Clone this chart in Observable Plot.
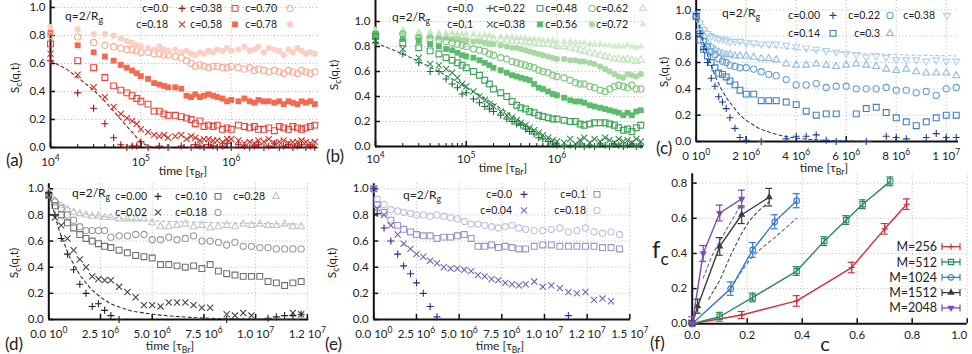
<!DOCTYPE html>
<html><head><meta charset="utf-8">
<script src="https://cdn.jsdelivr.net/npm/d3@7"></script>
<script src="https://cdn.jsdelivr.net/npm/@observablehq/plot@0.6"></script>
<style>
html,body{margin:0;padding:0;background:#fff;}
#root{position:relative;width:972px;height:354px;overflow:hidden;background:#fff;}
#root svg{position:absolute;}
</style></head><body><div id="root"></div>
<script>
const FONT = "Lato, 'Open Sans', 'DejaVu Sans', sans-serif";

// ---------------- Panel (a) data: time in tau_Br (log axis) ----------------
const tA = [1e4,2e4,3e4,4e4,5e4,6e4,7e4,8e4,9e4,1e5, 1.2e5,1.4e5,1.6e5,1.8e5,2e5, 2.4e5,2.8e5,3.2e5,3.6e5,4e5, 4.5e5,5e5,5.6e5,6.3e5,7e5, 8e5,9e5,1e6,1.2e6,1.4e6, 1.6e6,1.8e6,2e6,2.3e6,2.6e6, 3e6,3.4e6,3.8e6,4.3e6,4.8e6, 5.4e6,6e6,6.7e6,7.5e6,8.4e6];
const labelsA = ["c=0.0","c=0.18","c=0.38","c=0.58","c=0.70","c=0.78"];
const a00 = [0.62,0.39,0.28,0.17,0.07,0.02,0.0,0.01,0.01,0.04, 0.0,null,0.01,null,0.0, null,0.01,null,0.0,0.02, 0.01,0.0,0.02,0.01,0.0, 0.01,0.03,0.0,0.02,0.01, 0.0,0.01,0.02,0.0,0.01, 0.03,0.0,0.01,0.02,0.0, 0.01,0.02,0.0,0.01,0.0];
const a18 = [0.67,0.52,0.43,0.36,0.29,0.24,0.21,0.19,0.17,0.13, 0.11,0.09,0.08,0.09,0.07, 0.08,0.09,0.06,0.08,0.07, 0.05,0.06,0.06,0.05,0.05, 0.04,0.06,0.06,0.05,0.03, 0.04,0.03,0.05,0.04,0.06, 0.03,0.04,0.05,0.03,0.04, 0.04,0.05,0.04,0.03,0.04];
const a38 = [0.74,0.62,0.57,0.50,0.44,0.41,0.39,0.37,0.35,0.33, 0.31,0.26,0.26,0.24,0.23, 0.23,0.22,0.21,0.2,0.17, 0.19,0.15,0.16,0.15,0.16, 0.13,0.14,0.13,0.16,0.15, 0.14,0.15,0.13,0.13,0.14, 0.12,0.15,0.14,0.13,0.15, 0.14,0.13,0.14,0.15,0.16];
const a58 = [0.82,0.73,0.68,0.65,0.62,0.59,0.57,0.55,0.53,0.51, 0.49,0.46,0.45,0.44,0.43, 0.43,0.42,0.37,0.36,0.38, 0.36,0.37,0.38,0.37,0.36, 0.35,0.33,0.34,0.33,0.35, 0.33,0.32,0.34,0.33,0.33, 0.32,0.33,0.31,0.33,0.32, 0.31,0.33,0.32,0.33,0.31];
const a70 = [0.80,0.79,0.75,0.73,0.72,0.71,0.70,0.70,0.69,0.68, 0.68,0.67,0.67,0.66,0.66, 0.65,0.64,0.62,0.60,0.58, 0.59,0.58,0.57,0.58,0.58, 0.57,0.57,0.58,0.57,0.56, 0.57,0.55,0.56,0.55,0.54, 0.55,0.54,0.53,0.55,0.54, 0.53,0.55,0.54,0.53,0.54];
const a78 = [0.86,0.845,0.81,0.81,0.80,0.78,0.76,0.75,0.73,0.72, 0.71,0.70,0.72,0.70,0.69, 0.70,0.68,0.69,0.67,0.66, 0.68,0.67,0.69,0.68,0.70, 0.69,0.71,0.69,0.70,0.72, 0.69,0.70,0.72,0.68,0.71, 0.70,0.69,0.66,0.70,0.68, 0.71,0.69,0.67,0.68,0.67];
const fitA_t = [1e4,1.5e4,2e4,3e4,4e4,5e4,6e4,7e4,8e4,9e4,1e5,1.2e5,1.4e5];
const fitA_y = [0.62,0.56,0.50,0.41,0.33,0.26,0.20,0.15,0.11,0.07,0.04,0.01,0.0];

// ---------------- Panel (b) data ----------------
const labelsB = ["c=0.0","c=0.1","c=0.22","c=0.38","c=0.48","c=0.56","c=0.62","c=0.72"];
const b00 = [0.83,0.74,0.67,0.60,0.60,0.54,0.50,0.47,0.42,0.43, 0.38,0.35,0.32,0.30,0.28, 0.25,0.22,0.20,0.18,0.17, 0.14,0.12,0.10,0.07,0.06, 0.04,0.02,0.01,0.0,0.01, 0.0,0.02,0.0,0.01,0.0, 0.02,0.01,0.0,0.02,0.01, 0.0,0.01,0.02,0.0,0.01];
const b10 = [0.85,0.78,0.71,0.66,0.65,0.62,0.59,0.55,0.50,0.48, 0.44,0.40,0.37,0.34,0.32, 0.28,0.25,0.23,0.21,0.19, 0.17,0.15,0.13,0.11,0.09, 0.07,0.05,0.04,0.03,0.06, 0.02,0.05,0.07,0.03,0.06, 0.04,0.07,0.05,0.03,0.06, 0.04,0.05,0.03,0.06,0.04];
const b22 = [0.88,0.83,0.79,0.765,0.74,0.71,0.69,0.67,0.65,0.63, 0.60,0.57,0.53,0.50,0.46, 0.43,0.40,0.36,0.33,0.31, 0.30,0.28,0.27,0.25,0.24, 0.23,0.22,0.22,0.21,0.20, 0.20,0.18,0.17,0.18,0.19, 0.19,0.19,0.18,0.17,0.15, 0.13,0.14,0.12,0.15,0.17];
const b38 = [0.90,0.86,0.845,0.82,0.80,0.78,0.77,0.75,0.73,0.72, 0.71,0.69,0.67,0.65,0.63, 0.61,0.59,0.57,0.56,0.55, 0.54,0.53,0.50,0.47,0.46, 0.44,0.42,0.41,0.39,0.37, 0.36,0.36,0.35,0.33,0.32, 0.31,0.30,0.29,0.28,0.27, 0.25,0.27,0.25,0.28,0.29];
const b48 = [0.90,0.90,0.87,0.86,0.85,0.84,0.83,0.82,0.81,0.80, 0.78,0.77,0.76,0.74,0.73, 0.71,0.70,0.68,0.67,0.66, 0.65,0.64,0.63,0.61,0.60, 0.59,0.57,0.56,0.55,0.53, 0.51,0.50,0.50,0.48,0.47, 0.45,0.44,0.46,0.48,0.49, 0.48,0.47,0.49,0.46,0.46];
const b56 = [0.91,0.90,0.88,0.88,0.87,0.87,0.86,0.86,0.85,0.85, 0.84,0.84,0.83,0.82,0.82, 0.81,0.80,0.79,0.79,0.78, 0.77,0.76,0.75,0.74,0.73, 0.72,0.71,0.70,0.70,0.69, 0.69,0.68,0.68,0.67,0.66, 0.64,0.62,0.60,0.58,0.56, 0.55,0.58,0.57,0.56,0.58];
const b62 = [0.92,0.92,0.90,0.89,0.89,0.88,0.88,0.88,0.87,0.87, 0.87,0.86,0.86,0.86,0.85, 0.85,0.85,0.84,0.84,0.84, 0.83,0.83,0.83,0.82,0.82, 0.82,0.81,0.80,0.80,0.79, 0.78,0.77,0.76,0.75,0.74, 0.73,0.72,0.71,0.70,0.70, 0.69,0.70,0.69,0.68,0.69];
const b72 = [0.93,0.93,0.92,0.92,0.91,0.91,0.91,0.90,0.90,0.90, 0.90,0.89,0.89,0.89,0.88, 0.88,0.88,0.88,0.87,0.87, 0.87,0.86,0.86,0.86,0.85, 0.85,0.85,0.84,0.84,0.84, 0.83,0.83,0.83,0.82,0.82, 0.82,0.81,0.81,0.80,0.80, 0.80,0.81,0.80,0.79,0.80];
const fitB_t = [1e4,2e4,3e4,5e4,7e4,1e5,1.5e5,2e5,3e5,4e5,5e5,6e5];
const fitB_y = [0.83,0.74,0.68,0.60,0.54,0.47,0.40,0.34,0.26,0.20,0.15,0.11];

// ---------------- Panel (c) data: time in units of 1e6 tau_Br ----------------
const tC = [0,0.15,0.3,0.45,0.6,0.75,0.9,1.05,1.2,1.35, 1.55,1.75,2.0,2.3,2.6, 2.9,3.2,3.6,4.0,4.4, 4.8,5.2,5.6,6.0,6.4, 6.8,7.2,7.6,8.0,8.4, 8.8,9.2,9.6,10.0,10.4];
const labelsC = ["c=0.00","c=0.14","c=0.22","c=0.3","c=0.38"];
const c00 = [0.97,0.82,0.70,0.60,0.48,0.42,0.34,0.30,0.25,0.18, 0.10,0.03,0.01,null,0.0, null,null,0.02,0.04,0.04, 0.05,0.01,0.0,null,null, 0.0,null,0.04,0.03,0.02, null,0.03,0.06,0.03,0.03];
const c14 = [0.95,0.77,0.70,0.65,0.60,0.56,0.52,0.51,0.49,0.46, 0.43,0.39,0.36,0.36,0.31, 0.31,0.31,0.30,0.28,0.23, 0.20,0.21,0.21,null,0.21, 0.25,0.26,0.22,0.18,0.15, 0.12,0.15,0.18,0.20,0.20];
const c22 = [0.95,0.82,0.76,0.72,0.68,0.66,0.63,0.61,0.60,0.58, 0.57,0.56,0.56,0.55,0.53, 0.51,0.50,0.47,0.43,0.43, 0.44,0.41,0.42,0.42,0.40, 0.40,0.40,0.41,0.39,0.39, 0.37,0.38,0.35,0.40,0.41];
const c30 = [0.96,0.86,0.80,0.75,0.72,0.70,0.68,0.67,0.66,0.66, 0.65,0.65,0.65,0.64,0.63, 0.63,0.62,0.59,0.58,0.58, 0.59,0.58,0.57,0.58,0.59, 0.58,0.57,0.55,0.54,0.55, 0.53,0.52,0.52,0.52,0.50];
const c38 = [0.97,0.90,0.85,0.82,0.80,0.79,0.78,0.78,0.77,0.76, 0.76,0.76,0.75,0.75,0.74, 0.74,0.74,0.73,0.72,0.71, 0.70,0.69,0.68,0.67,0.66, 0.64,0.65,0.64,0.62,0.62, 0.62,0.61,0.62,0.61,0.61];
const fitC0_t = [0,0.25,0.5,0.75,1,1.25,1.5,1.75,2,2.5,3,3.5,4,5,6,7];
const fitC0_y = [0.97,0.78,0.63,0.50,0.40,0.32,0.26,0.20,0.16,0.10,0.065,0.04,0.025,0.01,0.004,0.0];
const fitC38_t = [0,0.5,1,1.5,2,3,4,5,6,7,8,9,10.4];
const fitC38_y = [0.97,0.83,0.78,0.76,0.74,0.72,0.70,0.69,0.675,0.665,0.66,0.655,0.65];

// ---------------- Panel (d) data: time in units of 1e6 tau_Br ----------------
const tD = [0,0.3,0.6,0.9,1.2,1.5,1.8,2.1,2.4,2.7, 3.0,3.4,3.8,4.2,4.6, 5.0,5.4,5.8,6.2,6.6, 7.0,7.4,7.8,8.2,8.6, 9.0,9.4,9.8,10.2,10.6, 11.0,11.4,11.8,12.2];
const labelsD = ["c=0.00","c=0.02","c=0.10","c=0.18","c=0.28"];
const d00 = [0.97,0.80,0.62,0.50,0.38,0.27,0.20,0.10,0.12,0.07, 0.03,0.0,null,null,null, null,null,null,null,null, null,null,null,null,0.0, null,null,null,null,0.01, 0.02,0.03,0.03,0.04];
const d02 = [0.95,0.78,0.72,0.62,0.53,0.46,0.40,0.33,0.31,0.30, 0.30,0.25,0.21,0.17,0.11, 0.11,0.10,0.13,0.13,0.13, 0.11,0.09,0.09,null,0.04, 0.03,0.05,0.03,null,null, null,null,0.05,0.04];
const d10 = [0.95,0.87,0.80,0.74,0.70,0.65,0.62,0.60,0.58,0.56, 0.55,0.53,0.51,0.49,0.48, 0.47,0.42,0.42,0.41,0.40, 0.41,0.39,0.42,0.37,0.35, 0.34,0.33,0.33,0.33,0.29, 0.28,0.26,0.28,0.29];
const d18 = [0.96,0.90,0.85,0.80,0.76,0.71,0.68,0.68,0.68,0.68, 0.63,0.64,0.64,0.65,0.65, 0.61,0.61,0.63,0.61,0.62, 0.64,0.60,0.60,0.59,0.57, 0.59,0.56,0.56,0.55,0.55, 0.54,0.54,0.54,0.54];
const d28 = [0.97,0.91,0.87,0.84,0.82,0.81,0.80,0.79,0.79,0.78, 0.78,0.77,0.77,0.77,0.77, 0.74,0.71,0.71,0.72,0.73, 0.71,0.72,0.70,0.71,0.72, 0.71,0.73,0.72,0.73,0.72, 0.72,0.73,0.71,0.71];
const fitD0_t = [0,0.5,1,1.5,2,2.5,3,3.5,4,5,6,7,8,10,12.2];
const fitD0_y = [0.97,0.68,0.48,0.34,0.24,0.17,0.12,0.09,0.065,0.04,0.025,0.015,0.008,0.003,0.0];
const fitD28_t = [0,0.5,1,1.5,2,3,4,5,6,8,10,12.2];
const fitD28_y = [0.97,0.90,0.85,0.82,0.80,0.78,0.765,0.755,0.75,0.74,0.735,0.73];

// ---------------- Panel (e) data: time in units of 1e6 tau_Br ----------------
const tE = [0,0.2,0.6,1.0,1.4,1.75,2.15,2.5,2.9,3.3, 3.7,4.1,4.5,4.9,5.3, 5.7,6.1,6.5,6.9,7.3, 7.7,8.1,8.5,8.9,9.4, 9.9,10.4,10.9,11.4,11.9, 12.4,12.9,13.4,13.9,14.4];
const labelsE = ["c=0.0","c=0.04","c=0.1","c=0.18"];
const e00 = [1.0,0.81,0.70,0.60,0.50,0.41,0.35,0.28,0.20,0.10, 0.02,null,null,null,null, null,null,null,null,null, null,null,null,null,null, null,null,null,0.03,null, null,null,null,null,null];
const e04 = [1.0,0.85,0.80,0.72,0.65,0.58,0.54,0.50,0.48,0.45, 0.43,0.40,0.39,0.39,0.38, 0.37,0.34,0.33,0.31,0.30, 0.28,0.27,0.26,0.27,0.29, 0.25,0.26,0.24,0.21,0.20, 0.21,0.15,0.16,0.14,null];
const e10 = [1.0,0.88,0.82,0.76,0.72,0.69,0.67,0.65,0.64,0.64, 0.62,0.63,0.63,0.64,0.65, 0.62,0.56,0.56,0.57,0.55, 0.56,0.55,0.54,0.54,0.56, 0.57,0.57,0.56,0.56,0.56, 0.56,0.56,0.55,0.55,0.54];
const e18 = [1.0,0.92,0.88,0.84,0.83,0.82,0.81,0.80,0.80,0.79, 0.80,0.79,0.78,0.77,0.75, 0.73,0.73,0.72,0.71,0.70, 0.71,0.72,0.70,0.69,0.68, 0.68,0.69,0.70,0.67,0.68, 0.70,0.67,0.66,0.67,0.65];

// ---------------- Panel (f) data: f_c versus c ----------------
const labelsF = ["M=256","M=512","M=1024","M=1512","M=2048"];
const fc256 = [0,0.18,0.38,0.58,0.70,0.78], ff256 = [0,0.05,0.13,0.32,0.54,0.68], fe256 = [0.01,0.02,0.03,0.03,0.03,0.03];
const fc512 = [0,0.1,0.22,0.38,0.48,0.56,0.62,0.72], ff512 = [0,0.04,0.15,0.30,0.47,0.59,0.68,0.81], fe512 = [0.01,0.025,0.025,0.025,0.025,0.025,0.025,0.025];
const fc1024 = [0,0.14,0.22,0.30,0.38], ff1024 = [0,0.20,0.42,0.58,0.70], fe1024 = [0.01,0.038,0.042,0.04,0.04];
const fc1512 = [0,0.02,0.10,0.18,0.28], ff1512 = [0,0.10,0.44,0.62,0.72], fe1512 = [0.02,0.04,0.05,0.05,0.05];
const fc2048 = [0,0.04,0.10,0.18], ff2048 = [0,0.40,0.63,0.71], fe2048 = [0.04,0.045,0.045,0.05];
const fitF2048_c = [0.04,0.07,0.10,0.13,0.16,0.18], fitF2048_f = [0.26,0.38,0.47,0.55,0.63,0.68];
const fitF1512_c = [0.06,0.10,0.14,0.18,0.21,0.24,0.28], fitF1512_f = [0.14,0.246,0.39,0.515,0.59,0.64,0.694];
const fitF1024_c = [0.14,0.18,0.22,0.26,0.30,0.34,0.38], fitF1024_f = [0.20,0.30,0.385,0.44,0.49,0.545,0.60];

// ---------------- tick values and labels ("^" marks a superscript) ----------------
const logTicks = [1e4,1e5,1e6], logTickLabels = ["10^4","10^5","10^6"];
const logMinor = [2e4,3e4,4e4,5e4,6e4,7e4,8e4,9e4,2e5,3e5,4e5,5e5,6e5,7e5,8e5,9e5,2e6,3e6,4e6,5e6,6e6,7e6,8e6];
const yTicks = [0,0.2,0.4,0.6,0.8,1.0], yTickLabels = ["0.0","0.2","0.4","0.6","0.8","1.0"];
const cTicks = [0,2e6,4e6,6e6,8e6,1e7], cTickLabels = ["0 10^0","2 10^6","4 10^6","6 10^6","8 10^6","1 10^7"];
const dTicks = [0,2.5e6,5e6,7.5e6,1e7,1.25e7], dTickLabels = ["0.0 10^0","2.5 10^6","5.0 10^6","7.5 10^6","1.0 10^7","1.2 10^7"];
const eTicks = [0,2.5e6,5e6,7.5e6,1e7,1.25e7,1.5e7], eTickLabels = ["0.0 10^0","2.5 10^6","5.0 10^6","7.5 10^6","1.0 10^7","1.2 10^7","1.5 10^7"];
const fxTicks = [0,0.2,0.4,0.6,0.8,1.0], fxTickLabels = ["0.0","0.2","0.4","0.6","0.8","1.0"];
const fyTicks = [0,0.2,0.4,0.6,0.8], fyTickLabels = ["0.0","0.2","0.4","0.6","0.8"];

// ---------------- styles ----------------
const stA = [
  {symbol:"plus", r:2.4, color:"#a3101a"},
  {symbol:"times", r:2.9, color:"#cf2e24"},
  {symbol:"square", r:3.3, color:"#e6463a"},
  {symbol:"square", r:3.3, color:"#f36a50", filled:true},
  {symbol:"circle", r:3.1, color:"#f9ab93"},
  {symbol:"circle", r:3.1, color:"#fbd0c2", filled:true}];
const stB = [
  {symbol:"plus", r:2.4, color:"#1d6b35"},
  {symbol:"times", r:2.9, color:"#2e8b48"},
  {symbol:"square", r:3.3, color:"#3fa55a"},
  {symbol:"square", r:3.3, color:"#5cbb6c", filled:true},
  {symbol:"circle", r:3.1, color:"#7cc77d"},
  {symbol:"circle", r:3.1, color:"#a8d9a2", filled:true},
  {symbol:"triangle", r:2.6, color:"#c2e4bc"},
  {symbol:"triangle", r:2.6, color:"#d3ecce", filled:true}];
const stC = [
  {symbol:"plus", r:2.4, color:"#1f3f8f"},
  {symbol:"square", r:3.3, color:"#3f7fc0"},
  {symbol:"circle", r:3.1, color:"#5f9fd3"},
  {symbol:"triangle", r:2.6, color:"#8fbde0"},
  {symbol:"triangle", r:2.6, color:"#b0cfea", rotate:180}];
const stD = [
  {symbol:"plus", r:2.4, color:"#222222"},
  {symbol:"times", r:2.9, color:"#444444"},
  {symbol:"square", r:3.3, color:"#707070"},
  {symbol:"circle", r:3.1, color:"#999999"},
  {symbol:"triangle", r:2.6, color:"#c4c4c4"}];
const stE = [
  {symbol:"plus", r:2.4, color:"#4b1e86"},
  {symbol:"times", r:2.9, color:"#7a62b5"},
  {symbol:"square", r:3.3, color:"#9b93c8"},
  {symbol:"circle", r:3.1, color:"#c3bedf"}];
const stF = [
  {symbol:"plus", r:2.2, color:"#c8303c"},
  {symbol:"square", r:3.0, color:"#2a8a57"},
  {symbol:"circle", r:2.8, color:"#3a7bc8"},
  {symbol:"triangle", r:2.7, color:"#3a3a3a", filled:true},
  {symbol:"triangle", r:2.7, color:"#7d4bb8", filled:true, rotate:180}];

const root = document.getElementById("root");

function rowsOf(t, ys, scale) {
  return t.map((v, i) => ({t: v * scale, y: ys[i]})).filter(d => d.y != null);
}
function dots(data, st, xk = "t", yk = "y") {
  return Plot.dot(data, {x: xk, y: yk, symbol: st.symbol, r: st.r, rotate: st.rotate || 0,
    fill: st.filled ? st.color : "none", stroke: st.filled ? "none" : st.color, strokeWidth: 1.1});
}
function fitLine(t, y, scale, color, dash = "3,3") {
  return Plot.line(t.map((v, i) => ({t: v * scale, y: y[i]})), {x: "t", y: "y", stroke: color, strokeWidth: 1.1, strokeDasharray: dash});
}
function axes({xTicks, xLabels, yT, yLabels, x0, y0, minor = [], xPad = 9}) {
  const xl = new Map(xTicks.map((d, i) => [d, xLabels[i]]));
  const yl = new Map(yT.map((d, i) => [d, yLabels[i]]));
  const grid = {stroke: "#9a9a9a", strokeOpacity: 0.9, strokeDasharray: "1,2.5", strokeWidth: 0.8};
  return [
    Plot.gridX({ticks: xTicks, ...grid}),
    Plot.gridY({ticks: yT, ...grid}),
    Plot.ruleX(xTicks, {x: d => d, y1: y0, y2: y0, insetTop: -5, stroke: "#111", strokeWidth: 1.5}),
    Plot.ruleX(minor, {x: d => d, y1: y0, y2: y0, insetTop: -3, stroke: "#111", strokeWidth: 1}),
    Plot.ruleY(yT, {y: d => d, x1: x0, x2: x0, insetRight: -5, stroke: "#111", strokeWidth: 1.5}),
    Plot.ruleY([y0], {stroke: "#111", strokeWidth: 2}),
    Plot.ruleX([x0], {stroke: "#111", strokeWidth: 2}),
    Plot.axisX({ticks: xTicks, tickFormat: d => xl.get(d), tickSize: 0, tickPadding: xPad, label: null, fill: "#222"}),
    Plot.axisY({ticks: yT, tickFormat: d => yl.get(d), tickSize: 0, tickPadding: 5, label: null, fill: "#222"})
  ];
}
// turn "a 10^b" tick labels into text with a real superscript tspan
function supify(svg) {
  d3.select(svg).selectAll("text").each(function () {
    if (this.querySelector("tspan")) return;
    const s = this.textContent, k = s.indexOf("^");
    if (k < 0) return;
    const el = d3.select(this);
    el.text(null);
    el.append("tspan").text(s.slice(0, k));
    el.append("tspan").attr("font-size", "8.5px").attr("dy", "-4.5").text(s.slice(k + 1));
  });
}
function panel(cfg, marks) {
  const p = Plot.plot({
    width: cfg.width, height: cfg.height,
    marginLeft: cfg.ml, marginRight: cfg.mr, marginTop: cfg.mt, marginBottom: cfg.mb,
    x: cfg.x, y: cfg.y,
    style: {fontFamily: FONT, fontSize: "11.5px", color: "#222", background: "transparent", overflow: "visible"},
    marks
  });
  p.style.left = cfg.left + "px";
  p.style.top = cfg.top + "px";
  supify(p);
  root.appendChild(p);
  return p;
}

// ---- (a) ----
{
  const series = [a00, a18, a38, a58, a70, a78];
  panel({left: 0, top: 0, width: 322, height: 180, ml: 50, mr: 5, mt: 0, mb: 33,
    x: {type: "log", domain: [1e4, 9e6]}, y: {domain: [0, 1.05]}}, [
    ...axes({xTicks: logTicks, xLabels: logTickLabels, yT: yTicks, yLabels: yTickLabels, x0: 1e4, y0: 0, minor: logMinor, xPad: 10}),
    fitLine(fitA_t, fitA_y, 1, "#a3101a"),
    ...series.map((s, i) => dots(rowsOf(tA, s, 1), stA[i]))
  ]);
}
// ---- (b) ----
{
  const series = [b00, b10, b22, b38, b48, b56, b62, b72];
  panel({left: 322, top: 0, width: 322, height: 180, ml: 53, mr: 1, mt: 0, mb: 34,
    x: {type: "log", domain: [1e4, 9e6]}, y: {domain: [0, 1.168]}}, [
    ...axes({xTicks: logTicks, xLabels: logTickLabels, yT: yTicks, yLabels: yTickLabels, x0: 1e4, y0: 0, minor: logMinor, xPad: 8}),
    fitLine(fitB_t, fitB_y, 1, "#1d6b35"),
    ...series.map((s, i) => dots(rowsOf(tA, s, 1), stB[i])).reverse()
  ]);
}
// ---- (c) ----
{
  const series = [c00, c14, c22, c30, c38];
  panel({left: 644, top: 0, width: 328, height: 180, ml: 51.7, mr: 14, mt: 0, mb: 39,
    x: {domain: [0, 1.049e7]}, y: {domain: [0, 1.071]}}, [
    ...axes({xTicks: cTicks, xLabels: cTickLabels, yT: yTicks, yLabels: yTickLabels, x0: 0, y0: 0, xPad: 10}),
    fitLine(fitC38_t, fitC38_y, 1e6, "#a9c7e6"),
    ...series.map((s, i) => dots(rowsOf(tC, s, 1e6), stC[i])).reverse(),
    fitLine(fitC0_t, fitC0_y, 1e6, "#1f3f8f")
  ]);
}
// ---- (d) ----
{
  const series = [d00, d02, d10, d18, d28];
  panel({left: 0, top: 177, width: 322, height: 177, ml: 48.3, mr: 13.7, mt: 6.3, mb: 35,
    x: {domain: [0, 1.257e7]}, y: {domain: [0, 1.038]}}, [
    ...axes({xTicks: dTicks, xLabels: dTickLabels, yT: yTicks, yLabels: yTickLabels, x0: 0, y0: 0, xPad: 10}),
    fitLine(fitD28_t, fitD28_y, 1e6, "#b5b5b5"),
    ...series.map((s, i) => dots(rowsOf(tD, s, 1e6), stD[i])).reverse(),
    fitLine(fitD0_t, fitD0_y, 1e6, "#333333")
  ]);
}
// ---- (e) ----
{
  const series = [e00, e04, e10, e18];
  panel({left: 322, top: 177, width: 322, height: 177, ml: 51.3, mr: 14, mt: 6.3, mb: 35,
    x: {domain: [0, 1.504e7]}, y: {domain: [0, 1.038]}}, [
    ...axes({xTicks: eTicks, xLabels: eTickLabels, yT: yTicks, yLabels: yTickLabels, x0: 0, y0: 0, xPad: 10}),
    ...series.map((s, i) => dots(rowsOf(tE, s, 1e6), stE[i])).reverse()
  ]);
}
// ---- (f) ----
{
  const groups = [[fc256, ff256, fe256], [fc512, ff512, fe512], [fc1024, ff1024, fe1024], [fc1512, ff1512, fe1512], [fc2048, ff2048, fe2048]];
  const marks = [...axes({xTicks: fxTicks, xLabels: fxTickLabels, yT: fyTicks, yLabels: fyTickLabels, x0: 0, y0: 0, xPad: 7})];
  marks.push(
    Plot.line(fitF1024_c.map((c, i) => ({c, f: fitF1024_f[i]})), {x: "c", y: "f", stroke: "#3a6fc4", strokeWidth: 1.1, strokeDasharray: "3,3"}),
    Plot.line(fitF1512_c.map((c, i) => ({c, f: fitF1512_f[i]})), {x: "c", y: "f", stroke: "#444", strokeWidth: 1.1, strokeDasharray: "3,3"}),
    Plot.line(fitF2048_c.map((c, i) => ({c, f: fitF2048_f[i]})), {x: "c", y: "f", stroke: "#5b62c8", strokeWidth: 1.1, strokeDasharray: "3,3"})
  );
  groups.forEach(([cs, fs, es], k) => {
    const st = stF[k];
    const data = cs.map((c, i) => ({c, f: fs[i], lo: Math.max(0, fs[i] - es[i]), hi: fs[i] + es[i]}));
    marks.push(
      Plot.line(data, {x: "c", y: "f", stroke: st.color, strokeWidth: 1.4}),
      Plot.ruleX(data, {x: "c", y1: "lo", y2: "hi", stroke: st.color, strokeWidth: 1.2}),
      Plot.ruleY(data, {y: "hi", x1: "c", x2: "c", insetLeft: -3.5, insetRight: -3.5, stroke: st.color, strokeWidth: 1.2}),
      Plot.ruleY(data, {y: "lo", x1: "c", x2: "c", insetLeft: -3.5, insetRight: -3.5, stroke: st.color, strokeWidth: 1.2}),
      dots(data, st, "c", "f")
    );
  });
  const pf = panel({left: 644, top: 168, width: 328, height: 186, ml: 47.7, mr: 5.3, mt: 5.3, mb: 30.7,
    x: {domain: [0, 1.0]}, y: {domain: [0, 0.853]}}, marks);
  // keep the last x tick label ("1.0") inside the picture
  const xl = pf.querySelectorAll('g[aria-label="x-axis tick label"] text');
  if (xl.length) xl[xl.length - 1].setAttribute("text-anchor", "end");
}

// ---------------- overlay: titles, labels, legends ----------------
const ov = d3.select(root).append("svg").attr("width", 972).attr("height", 354)
  .style("left", "0px").style("top", "0px").attr("font-family", FONT);

function rich(x, y, parts, {size = 12, anchor = "start", rotate = 0, fill = "#222"} = {}) {
  const t = ov.append("text").attr("x", x).attr("y", y).attr("font-size", size)
    .attr("text-anchor", anchor).attr("fill", fill);
  if (rotate) t.attr("transform", `rotate(${rotate} ${x} ${y})`);
  let shift = 0;
  for (const p of parts) {
    const sp = t.append("tspan");
    if (typeof p === "string") {
      sp.text(p);
      if (shift) { sp.attr("dy", -shift); shift = 0; }
    } else {
      const s = size * 0.28;
      sp.attr("font-size", size * 0.72).attr("dy", s - shift).text(p.sub);
      shift = s;
    }
  }
  return t;
}
const symTypes = {plus: d3.symbolPlus, times: d3.symbolTimes, square: d3.symbolSquare, circle: d3.symbolCircle, triangle: d3.symbolTriangle};
function sym(x, y, st) {
  ov.append("path").attr("d", d3.symbol(symTypes[st.symbol], Math.PI * st.r * st.r)())
    .attr("transform", `translate(${x},${y}) rotate(${st.rotate || 0})`)
    .attr("fill", st.filled ? st.color : "none").attr("stroke", st.filled ? "none" : st.color)
    .attr("stroke-width", 1.1);
}
function legend(labels, styles, textX, symX, rowY) {
  const n = rowY.length;
  labels.forEach((lab, i) => {
    const col = Math.floor(i / n), row = i % n;
    ov.append("text").attr("x", textX[col]).attr("y", rowY[row]).attr("text-anchor", "end")
      .attr("font-size", 10.5).attr("fill", "#222").text(lab);
    sym(symX[col], rowY[row] - 3.6, styles[i]);
  });
}

// panel letters
[["(a)", 6, 166], ["(b)", 326, 162], ["(c)", 656, 154], ["(d)", 5, 350], ["(e)", 325, 350], ["(f)", 650, 349]]
  .forEach(([s, x, y]) => rich(x, y, [s], {size: 17}));

// q = 2/R_g
[[65, 20], [392, 21], [722, 17], [72, 197], [403, 199]].forEach(([x, y]) => rich(x, y, ["q=2/R", {sub: "g"}], {size: 12}));

// y titles
[[19, 78], [338, 75], [668, 72], [18, 263], [336, 263]].forEach(([x, y]) =>
  rich(x, y, ["S", {sub: "c"}, "(q,t)"], {size: 12, anchor: "middle", rotate: -90}));

// x titles
[[183, 175], [503, 172], [824, 172], [170, 350], [500, 350]].forEach(([x, y]) =>
  rich(x, y, ["time [τ", {sub: "Br"}, "]"], {size: 12, anchor: "middle"}));

rich(652, 258, ["f", {sub: "c"}], {size: 24});
rich(825, 351, ["c"], {size: 20, anchor: "middle"});

// legends
legend(labelsA, stA, [168, 222, 277], [182, 235, 290], [12, 28]);
legend(labelsB, stB, [473, 525, 577, 628], [490, 540, 592, 643], [12, 28]);
legend(labelsC, stC, [820, 880, 935], [833, 890, 947], [19, 37]);
legend(labelsD, stD, [147, 207, 265], [158, 218, 276], [200, 216]);
legend(labelsE, stE, [512, 586], [524, 597], [198, 214]);

// legend (f)
labelsF.forEach((lab, i) => {
  const y = 246.7 + i * 15.3, st = stF[i];
  ov.append("text").attr("x", 937).attr("y", y + 4.5).attr("text-anchor", "end")
    .attr("font-size", 12.5).attr("fill", "#222").text(lab);
  ov.append("line").attr("x1", 942).attr("x2", 960).attr("y1", y).attr("y2", y).attr("stroke", st.color).attr("stroke-width", 1.3);
  [942, 960].forEach(x => ov.append("line").attr("x1", x).attr("x2", x).attr("y1", y - 3.5).attr("y2", y + 3.5).attr("stroke", st.color).attr("stroke-width", 1.2));
  sym(951, y, st);
});
</script></body></html>
